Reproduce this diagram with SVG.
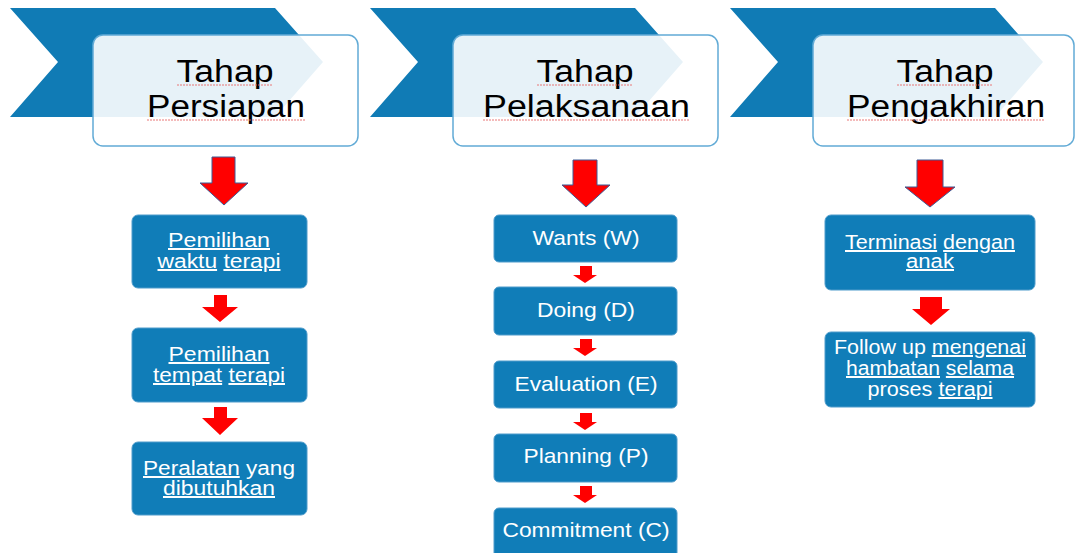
<svg xmlns="http://www.w3.org/2000/svg" width="1075" height="553" viewBox="0 0 1075 553">
<defs>
<style>
.chev{fill:#107bb5}
.hdr{fill:#ffffff;fill-opacity:0.9;stroke:#62abd6;stroke-width:1.5}
.ttl{font-family:"Liberation Sans",Arial,sans-serif;font-size:31px;fill:#000;text-anchor:middle}
.box{fill:#107db8;stroke:#4f9ccb;stroke-width:1}
.bt{font-family:"Liberation Sans",Arial,sans-serif;font-size:20px;fill:#fff;text-anchor:middle}
.mt{font-family:"Liberation Sans",Arial,sans-serif;font-size:21px;fill:#fff;text-anchor:middle}
.u{text-decoration:underline;text-decoration-thickness:1px}
.arr{fill:#ff0000}
.arrb{fill:#ff0000;stroke:#3d5a95;stroke-width:1}
.sq{fill:none;stroke:#e86a6a;stroke-width:0.9;stroke-dasharray:2 1}
</style>
</defs>
<rect width="1075" height="553" fill="#ffffff"/>

<g id="stage1">
<path class="chev" d="M10,8 L275,8 L323,62 L275,117 L10,117 L58,62 Z"/>
<rect class="hdr" x="93" y="35" width="265" height="111" rx="10"/>
<text class="ttl" x="225" y="82" textLength="97" lengthAdjust="spacingAndGlyphs">Tahap</text>
<text class="ttl" x="226" y="117" textLength="158" lengthAdjust="spacingAndGlyphs">Persiapan</text>
<path class="sq" d="M177,85 H273 M147,120 H305"/>
</g>

<g id="stage2">
<path class="chev" d="M370,8 L635,8 L683,62 L635,117 L370,117 L418,62 Z"/>
<rect class="hdr" x="453" y="35" width="265" height="111" rx="10"/>
<text class="ttl" x="585" y="82" textLength="97" lengthAdjust="spacingAndGlyphs">Tahap</text>
<text class="ttl" x="586.5" y="117" textLength="207" lengthAdjust="spacingAndGlyphs">Pelaksanaan</text>
<path class="sq" d="M537,85 H633 M483,120 H690"/>
</g>

<g id="stage3">
<path class="chev" d="M730,8 L995,8 L1043,62 L995,117 L730,117 L778,62 Z"/>
<rect class="hdr" x="813" y="35" width="261" height="111" rx="10"/>
<text class="ttl" x="945" y="82" textLength="97" lengthAdjust="spacingAndGlyphs">Tahap</text>
<text class="ttl" x="946" y="117" textLength="198" lengthAdjust="spacingAndGlyphs">Pengakhiran</text>
<path class="sq" d="M897,85 H993 M847,120 H1045"/>
</g>

<g id="connectors">
<path class="arrb" d="M212,157 H235 V183 H248 L224,205 L200,183 H212 Z"/>
<path class="arr" d="M214,295 H227 V307 H238 L220,322 L202,307 H214 Z"/>
<path class="arr" d="M214,407 H227 V418 H238 L220,435 L202,418 H214 Z"/>

<path class="arrb" d="M573,160 H597 V185 H610 L586,207 L562,185 H573 Z"/>
<path class="arr" d="M580,266 H592 V275 H597 L585,283 L573,275 H580 Z"/>
<path class="arr" d="M580,339 H592 V348 H597 L585,356 L573,348 H580 Z"/>
<path class="arr" d="M580,413 H592 V422 H597 L585,430 L573,422 H580 Z"/>
<path class="arr" d="M580,486 H592 V495 H597 L585,503 L573,495 H580 Z"/>

<path class="arrb" d="M917,160 H943 V187 H955 L930,207 L905,187 H917 Z"/>
<path class="arr" d="M920,297 H942 V309 H950 L931,325 L912,309 H920 Z"/>
</g>

<g id="l1">
<rect class="box" x="132" y="215" width="175" height="73" rx="6"/>
<text class="bt" x="219" y="247" textLength="102" lengthAdjust="spacingAndGlyphs"><tspan class="u">Pemilihan</tspan></text>
<text class="bt" x="219" y="268" textLength="123" lengthAdjust="spacingAndGlyphs"><tspan class="u">waktu</tspan> <tspan class="u">terapi</tspan></text>
</g>
<g id="l2">
<rect class="box" x="132" y="328" width="175" height="74" rx="6"/>
<text class="bt" x="219" y="361" textLength="101" lengthAdjust="spacingAndGlyphs"><tspan class="u">Pemilihan</tspan></text>
<text class="bt" x="219" y="382" textLength="132" lengthAdjust="spacingAndGlyphs"><tspan class="u">tempat</tspan> <tspan class="u">terapi</tspan></text>
</g>
<g id="l3">
<rect class="box" x="132" y="442" width="175" height="73" rx="6"/>
<text class="bt" x="219" y="475" textLength="152" lengthAdjust="spacingAndGlyphs"><tspan class="u">Peralatan</tspan> yang</text>
<text class="bt" x="219" y="495" textLength="112" lengthAdjust="spacingAndGlyphs"><tspan class="u">dibutuhkan</tspan></text>
</g>

<g id="m1">
<rect class="box" x="494" y="215" width="183" height="47" rx="5"/>
<text class="mt" x="586" y="245" textLength="107" lengthAdjust="spacingAndGlyphs">Wants (W)</text>
</g>
<g id="m2">
<rect class="box" x="494" y="287" width="183" height="48" rx="5"/>
<text class="mt" x="586" y="317" textLength="98" lengthAdjust="spacingAndGlyphs">Doing (D)</text>
</g>
<g id="m3">
<rect class="box" x="494" y="361" width="183" height="47" rx="5"/>
<text class="mt" x="586" y="391" textLength="143" lengthAdjust="spacingAndGlyphs">Evaluation (E)</text>
</g>
<g id="m4">
<rect class="box" x="494" y="434" width="183" height="48" rx="5"/>
<text class="mt" x="586" y="463" textLength="125" lengthAdjust="spacingAndGlyphs">Planning (P)</text>
</g>
<g id="m5">
<rect class="box" x="494" y="508" width="183" height="50" rx="5"/>
<text class="mt" x="586" y="537" textLength="167" lengthAdjust="spacingAndGlyphs">Commitment (C)</text>
</g>

<g id="r1">
<rect class="box" x="825" y="215" width="210" height="75" rx="6"/>
<text class="bt" x="930" y="249" textLength="170" lengthAdjust="spacingAndGlyphs"><tspan class="u">Terminasi</tspan> <tspan class="u">dengan</tspan></text>
<text class="bt" x="930" y="268" textLength="48" lengthAdjust="spacingAndGlyphs"><tspan class="u">anak</tspan></text>
</g>
<g id="r2">
<rect class="box" x="825" y="332" width="210" height="75" rx="6"/>
<text class="bt" x="930" y="354" textLength="192" lengthAdjust="spacingAndGlyphs">Follow up <tspan class="u">mengenai</tspan></text>
<text class="bt" x="930" y="375" textLength="168" lengthAdjust="spacingAndGlyphs"><tspan class="u">hambatan</tspan> <tspan class="u">selama</tspan></text>
<text class="bt" x="930" y="396" textLength="125" lengthAdjust="spacingAndGlyphs">proses <tspan class="u">terapi</tspan></text>
</g>
</svg>
